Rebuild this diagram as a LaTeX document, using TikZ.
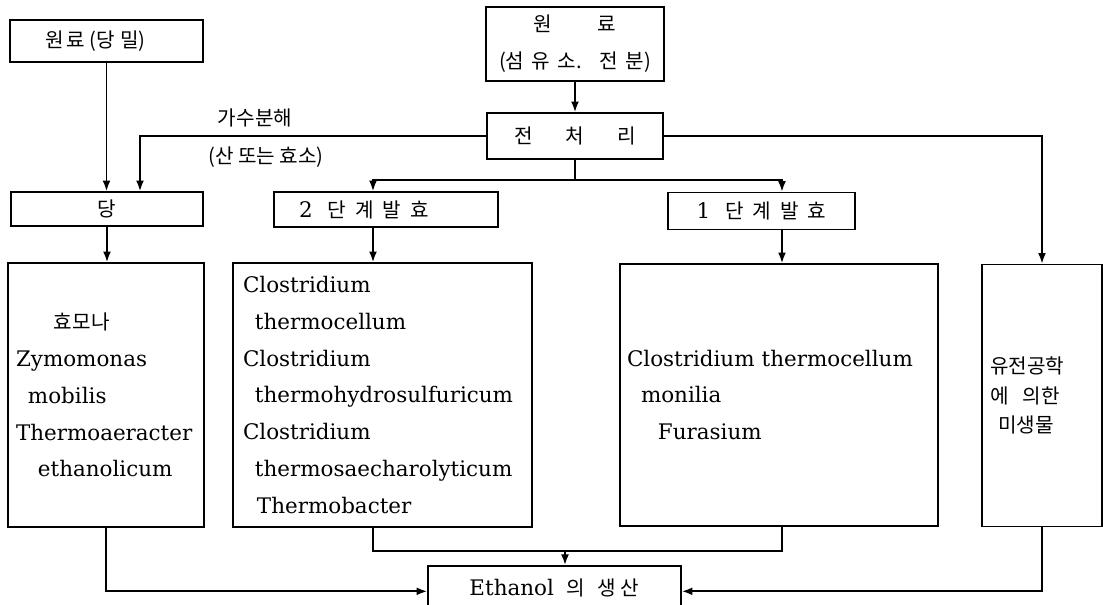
\documentclass[tikz,border=0pt]{standalone}
\usepackage{fontspec}
\setmainfont{DejaVu Serif}
\newfontfamily\kr[Scale=0.94]{Noto Sans CJK KR}
\usepackage{tikz}
\usetikzlibrary{arrows.meta}
\tikzset{>=latex}
\tikzstyle{box}=[draw,line width=1pt,inner sep=0pt,font=\fontsize{12.2}{21}\selectfont]
\tikzstyle{txt}=[inner sep=0pt,font=\fontsize{12.2}{21}\selectfont]
\tikzstyle{line}=[line width=1pt]
\tikzstyle{arr}=[line width=1pt,-{Latex[length=6pt,width=4.5pt]}]

\begin{document}
\begin{tikzpicture}[x=0.02cm,y=-0.02cm]
  \def\px{0.02cm} % one pixel of the scan
  \clip (0,0) rectangle (1103,605);

  % RAW MATERIALS
  \node[box,minimum width=193*\px,minimum height=42*\px] (mol) at (106.5,41)
        {\kr 원\hspace{0.5mm}료\hspace{1mm}(당\hspace{1mm}밀)\hspace{0.45cm}\null};
  \node[box,minimum width=178*\px,minimum height=74*\px,align=center,
        font=\kr\fontsize{12.2}{21}\selectfont] (raw) at (575,44)
        {원\hspace{0.9cm}료\\(섬\hspace{1.5mm}유\hspace{1.5mm}소.\hspace{3.5mm}전\hspace{1.5mm}분)};
  \node[box,minimum width=176*\px,minimum height=46*\px] (pre) at (575,136)
        {\kr 전\hspace{0.66cm}처\hspace{0.66cm}리};
  \node[txt] (hydro) at (255,118) {\kr 가수분해};
  \node[txt] (agent) at (266,157) {\kr (산 또는 효소)};

  % STAGES
  \node[box,minimum width=192*\px,minimum height=34*\px] (sugar) at (107,209) {\kr 당};
  \node[box,minimum width=224*\px,minimum height=35*\px] (two) at (386,209.5)
        {2\hspace{0.3cm}{\kr 단\hspace{0.18cm}계\hspace{0.18cm}발\hspace{0.18cm}효}\hspace{0.88cm}\null};
  \node[box,minimum width=187*\px,minimum height=37*\px] (one) at (761.5,211)
        {1\hspace{0.3cm}{\kr 단\hspace{0.18cm}계\hspace{0.18cm}발\hspace{0.18cm}효}};

  % ORGANISMS
  \node[box,minimum width=196*\px,minimum height=264*\px,align=left,text width=180*\px] (yeast) at (106,395)
        {\hspace*{0.76cm}{\kr 효모나}\\Zymomonas\\\hspace*{0.24cm}mobilis\\Thermoaeracter\\\hspace*{0.44cm}ethanolicum};
  \node[box,minimum width=299*\px,minimum height=264*\px,align=left,text width=279*\px] (clos) at (382.5,395)
        {Clostridium\\\hspace*{0.24cm}thermocellum\\Clostridium\\\hspace*{0.24cm}thermohydrosulfuricum\\
         Clostridium\\\hspace*{0.24cm}thermosaecharolyticum\\\hspace*{0.28cm}Thermobacter};
  \node[box,minimum width=318*\px,minimum height=262*\px,align=left,text width=304*\px] (thermo) at (779,395)
        {Clostridium thermocellum\\\hspace*{0.28cm}monilia\\\hspace*{0.62cm}Furasium};
  \node[box,minimum width=120*\px,minimum height=262*\px,align=left,text width=104*\px,
        font=\kr\fontsize{12.2}{17}\selectfont] (gene) at (1042,395.5)
        {유전공학\\에\hspace{0.28cm}의한\\\hspace*{0.16cm}미생물};

  % PRODUCT
  \node[box,anchor=north,minimum width=253*\px,text height=30*\px,text depth=100*\px] (eth) at (554.5,565)
        {Ethanol\hspace{0.25cm}{\kr 의\hspace{0.25cm}생\hspace{0.1cm}산}};

  % CONNECTORS
  \coordinate (hx) at (140,136);
  \coordinate (c2) at (373,180);
  \coordinate (c1) at (782,180);
  \coordinate (join) at (565,551);
  \draw[arr] (mol.south) -- (mol.south |- sugar.north);
  \draw[arr] (raw) -- (pre);
  \draw[arr] (pre.west) -| (hx |- sugar.north);
  \draw[arr] (pre.east) -| (gene.north);
  \draw[arr] (pre.south) |- (c2) -- (c2 |- two.north);
  \draw[arr] (pre.south |- c1) -- (c1) -- (c1 |- one.north);
  \draw[arr] (sugar.south) -- (sugar.south |- yeast.north);
  \draw[arr] (c2 |- two.south) -- (c2 |- clos.north);
  \draw[arr] (c1 |- one.south) -- (c1 |- thermo.north);
  \draw[line] (c2 |- clos.south) |- (c1 |- join) -- (c1 |- thermo.south);
  \draw[arr] (join) -- (join |- eth.north);
  \draw[arr] (yeast.south) |- (eth.mid west);
  \draw[arr] (gene.south) |- (eth.mid east);
\end{tikzpicture}
\end{document}
